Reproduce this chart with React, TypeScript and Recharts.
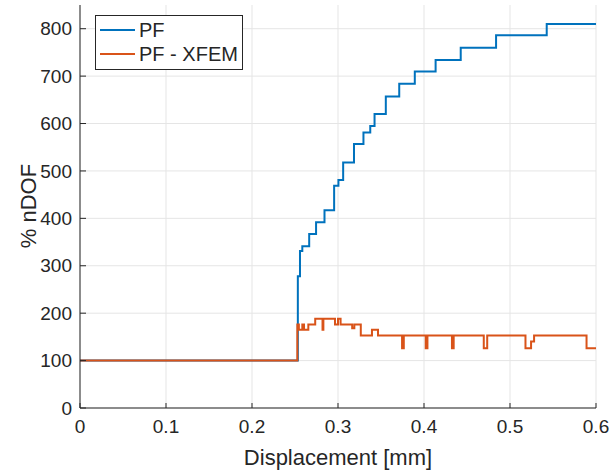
import React from "react";
import {
  LineChart,
  Line,
  XAxis,
  YAxis,
  CartesianGrid,
} from "recharts";

// PF (phase field only) – change points of the stepped curve
const pfX = [
  0, 0.2533, 0.2558, 0.2585, 0.2665, 0.2745, 0.2843, 0.2955, 0.3005, 0.306,
  0.3186, 0.3296, 0.3375, 0.3425, 0.3556, 0.3712, 0.3893, 0.4135, 0.4427,
  0.4838, 0.5427, 0.6,
];
const pfY = [
  100, 278, 331, 341, 367, 392, 417, 469, 481, 518, 557, 581, 595, 620, 657,
  684, 710, 734, 760, 786, 810, 810,
];

// PF - XFEM
const xfemX = [
  0, 0.2527, 0.2545, 0.2585, 0.2605, 0.2655, 0.2735, 0.282, 0.283, 0.2965,
  0.3, 0.303, 0.3165, 0.319, 0.3265, 0.3395, 0.3465, 0.3745, 0.3765, 0.402,
  0.404, 0.4325, 0.4345, 0.4695, 0.4735, 0.518, 0.5245, 0.528, 0.589, 0.6,
];
const xfemY = [
  100, 176, 165, 176, 165, 176, 188, 165, 188, 176, 188, 176, 168, 176, 153,
  165, 153, 126, 153, 126, 153, 126, 153, 126, 153, 126, 140, 153, 126, 126,
];

const xTicks = [0, 0.1, 0.2, 0.3, 0.4, 0.5, 0.6];
const yTicks = [0, 100, 200, 300, 400, 500, 600, 700, 800];

const series = [
  { name: "PF", color: "#0072BD", data: pfX.map((x, i) => ({ x, y: pfY[i] })) },
  { name: "PF - XFEM", color: "#D95319", data: xfemX.map((x, i) => ({ x, y: xfemY[i] })) },
];

const FONT = "'Liberation Sans', Arial, sans-serif";
const INK = "#262626";

const YTick = (props: any) => {
  const { x, y, payload } = props;
  return (
    <g>
      <line x1={x + 8} x2={x + 14} y1={y} y2={y} stroke={INK} strokeWidth={1} />
      <text x={x} y={y} dy="0.35em" textAnchor="end" fill={INK} fontSize={19} fontFamily={FONT}>
        {payload.value}
      </text>
    </g>
  );
};

const XTick = (props: any) => {
  const { x, y, payload } = props;
  return (
    <g>
      <line x1={x} x2={x} y1={y - 12} y2={y - 17} stroke={INK} strokeWidth={1} />
      <text x={x} y={y} dy="0.71em" textAnchor="middle" fill={INK} fontSize={19} fontFamily={FONT}>
        {String(payload.value)}
      </text>
    </g>
  );
};

function LegendBox() {
  return (
    <div
      style={{
        position: "absolute",
        left: 95,
        top: 15,
        border: `1px solid ${INK}`,
        background: "#fff",
        padding: "2px 4px 3px 4px",
        fontFamily: FONT,
        fontSize: 20,
        color: INK,
      }}
    >
      {series.map((s) => (
        <div key={s.name} style={{ display: "flex", alignItems: "center", height: 24, whiteSpace: "nowrap" }}>
          <svg width={35} height={4} style={{ marginRight: 4 }}>
            <line x1={0} x2={35} y1={2} y2={2} stroke={s.color} strokeWidth={2} />
          </svg>
          <span>{s.name}</span>
        </div>
      ))}
    </div>
  );
}

export default function App() {
  return (
    <div style={{ position: "absolute", left: 0, top: 0, width: 610, height: 470, background: "#fff" }}>
      <LineChart width={610} height={470} margin={{ top: 5, right: 14, left: 0, bottom: 0 }}>
        <CartesianGrid stroke="#e5e5e5" strokeWidth={1} horizontalValues={yTicks} verticalValues={xTicks} />
        <XAxis
          type="number"
          dataKey="x"
          domain={[0, 0.6]}
          ticks={xTicks}
          allowDataOverflow
          height={62}
          tickSize={0}
          tickMargin={12}
          tick={<XTick />}
          axisLine={{ stroke: INK, strokeWidth: 1 }}
          label={{
            content: () => (
              <text x={338} y={465} textAnchor="middle" fill={INK} fontSize={22} fontFamily={FONT}>
                Displacement [mm]
              </text>
            ),
          }}
        />
        <YAxis
          type="number"
          dataKey="y"
          domain={[0, 850]}
          ticks={yTicks}
          allowDataOverflow
          width={80}
          tickSize={0}
          tickMargin={8}
          tick={<YTick />}
          axisLine={{ stroke: INK, strokeWidth: 1 }}
          label={{
            content: () => (
              <text
                transform="translate(36,206) rotate(-90)"
                textAnchor="middle"
                fill={INK}
                fontSize={22}
                fontFamily={FONT}
              >
                % nDOF
              </text>
            ),
          }}
        />
        {series.map((s) => (
          <Line
            key={s.name}
            data={s.data}
            dataKey="y"
            name={s.name}
            type="stepAfter"
            stroke={s.color}
            strokeWidth={2}
            dot={false}
            isAnimationActive={false}
          />
        ))}
      </LineChart>
      <LegendBox />
    </div>
  );
}
